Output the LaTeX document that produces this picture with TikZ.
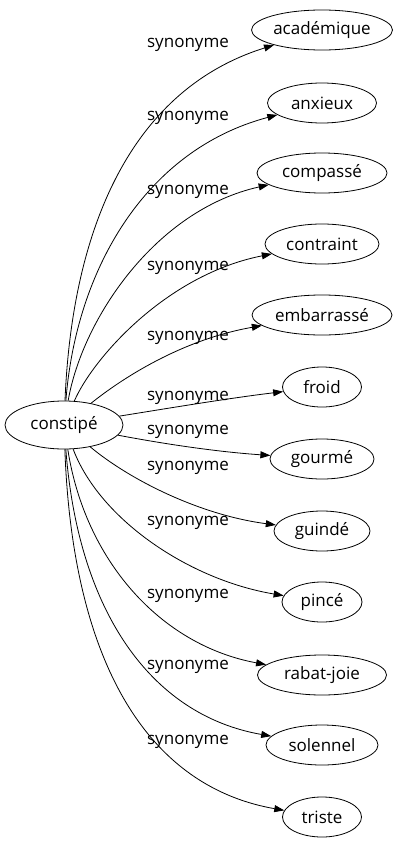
\documentclass[tikz,border=0pt]{standalone}
\usepackage{fontspec}
\setmainfont{Open Sans}
\usetikzlibrary{shapes.geometric, arrows.meta}
\begin{document}
\begin{tikzpicture}[x=1pt, y=-1pt, >={Triangle[length=10pt, width=7pt]},
    word/.style={draw, ellipse, inner sep=0pt, minimum height=40pt, line width=0.8pt,
                 font=\fontsize{17}{17}\selectfont},
    syn/.style={inner sep=0pt, font=\fontsize{17}{17}\selectfont},
    link/.style={->, line width=0.8pt}]
    % 1. Page size
    \useasboundingbox (0,0) rectangle (407,851);

    % 2. Central word
    \node[word, minimum width=118pt, minimum height=48pt] (constipe) at (64,425) {constipé};

    % 3. Synonyms: node, edge label and arrow
    \foreach \name/\txt/\w/\y/\ly/\ax/\ay/\bx/\by [count=\i] in {
        academique/académique/141/30/45/72/230/130/90,
        anxieux/anxieux/109/103/118/76/270/145/150,
        compasse/compassé/130/173/192/82/320/155/210,
        contraint/contraint/114/244/268/92/360/165/275,
        embarrasse/embarrassé/140/315/338/120/380/180/340,
        froid/froid/79/387/398/170/408/230/398,
        gourme/gourmé/104/459/432/170/445/220/452,
        guinde/guindé/96/531/468/130/480/200/515,
        pince/pincé/80/602/523/100/520/190/580,
        rabatjoie/rabat-joie/129/675/596/85/560/160/645,
        solennel/solennel/112/745/667/78/610/150/715,
        triste/triste/79/817/742/72/650/140/785}{
        \node[word, minimum width=\w pt] (\name) at (322,\y) {\txt};
        \node[syn] (lab\i) at (188,\ly) {synonyme};
        \draw[link] (constipe) .. controls (\ax,\ay) and (\bx,\by) .. (\name);
    }
\end{tikzpicture}
\end{document}
